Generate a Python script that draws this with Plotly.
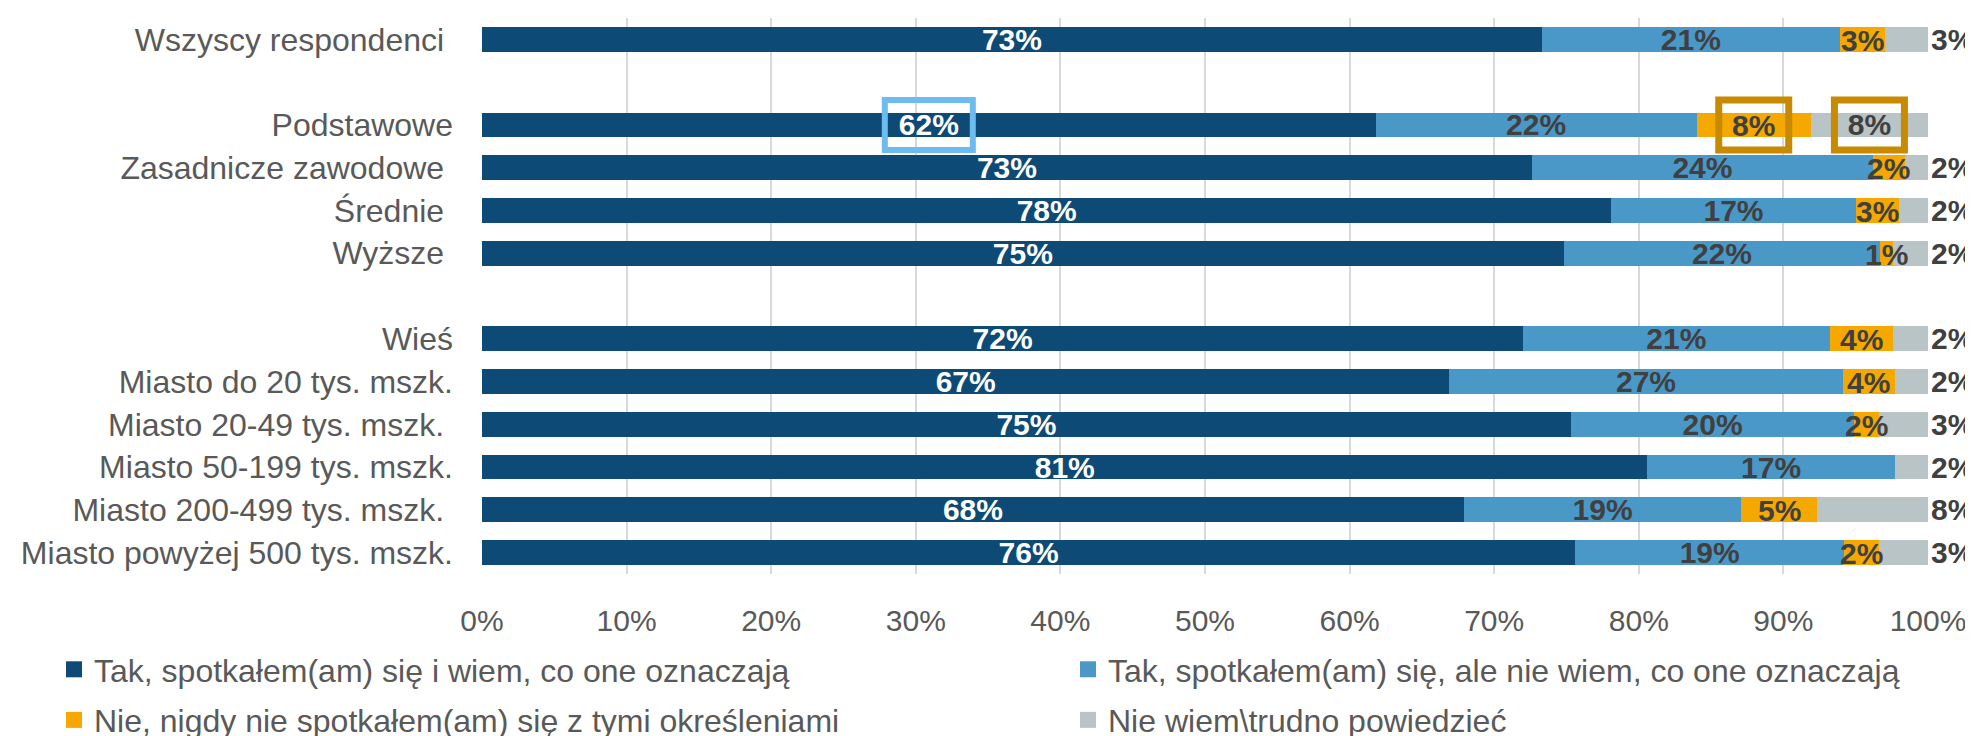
import plotly.graph_objects as go

# ---------------- data ----------------
categories = [
    "Wszyscy respondenci\u00a0",
    " ",
    "Podstawowe",
    "Zasadnicze zawodowe\u00a0",
    "Średnie\u00a0",
    "Wyższe\u00a0",
    "  ",
    "Wieś",
    "Miasto do 20 tys. mszk.",
    "Miasto 20-49 tys. mszk.\u00a0",
    "Miasto 50-199 tys. mszk.",
    "Miasto 200-499 tys. mszk.\u00a0",
    "Miasto powyżej 500 tys. mszk.",
]

series_names = [
    "Tak, spotkałem(am) się i wiem, co one oznaczają",
    "Tak, spotkałem(am) się, ale nie wiem, co one oznaczają",
    "Nie, nigdy nie spotkałem(am) się z tymi określeniami",
    "Nie wiem\\trudno powiedzieć",
]

tak_wiem = [73.3, None, 61.8, 72.6, 78.1, 74.8, None, 72.0, 66.9, 75.3, 80.6, 67.9, 75.6]
tak_nie_wiem = [20.6, None, 22.2, 23.6, 16.9, 21.9, None, 21.2, 27.2, 19.6, 17.1, 19.2, 18.6]
nie_nigdy = [3.1, None, 7.9, 2.2, 3.0, 0.9, None, 4.4, 3.6, 1.7, 0.0, 5.2, 2.4]
trudno = [3.0, None, 8.1, 1.6, 2.0, 2.4, None, 2.4, 2.3, 3.4, 2.3, 7.7, 3.4]

x_ticks = [0, 10, 20, 30, 40, 50, 60, 70, 80, 90, 100]

# highlighted labels: (category, series index)
highlights = [("Podstawowe", 0), ("Podstawowe", 2), ("Podstawowe", 3)]

# ---------------- style ----------------
colors = ["#0D4A76", "#4A98C8", "#F5A900", "#B8C4C5"]
label_colors = ["#FFFFFF", "#404040", "#404040", "#404040"]
FONT = "Liberation Sans, Arial, sans-serif"
series = [tak_wiem, tak_nie_wiem, nie_nigdy, trudno]


def lbl(v):
    if v is None or v == 0:
        return ""
    return f"{round(v)}%"


fig = go.Figure()
for i, (name, vals) in enumerate(zip(series_names, series)):
    texts = [lbl(v) for v in vals] if i != 2 else None
    if i == 3:
        positions = ["inside" if c == "Podstawowe" else "outside" for c in categories]
    else:
        positions = "inside"
    fig.add_trace(go.Bar(
        name=name,
        y=categories,
        x=vals,
        orientation="h",
        marker=dict(color=colors[i], line=dict(width=0)),
        text=texts,
        textposition=positions,
        insidetextanchor="middle",
        textangle=0,
        constraintext="none",
        cliponaxis=False,
        insidetextfont=dict(family=FONT, size=30, color=label_colors[i], weight="bold"),
        outsidetextfont=dict(family=FONT, size=30, color="#404040", weight="bold"),
        showlegend=False,
        hoverinfo="skip",
    ))

# labels of the narrow orange segments, drawn above all bars
for j, cat in enumerate(categories):
    v = nie_nigdy[j]
    if v:
        fig.add_annotation(
            x=(tak_wiem[j] or 0) + (tak_nie_wiem[j] or 0) + v / 2,
            y=cat, xref="x", yref="y",
            text=lbl(v), showarrow=False,
            xanchor="center", yanchor="middle", yshift=-1,
            font=dict(family=FONT, size=30, color="#404040", weight="bold"),
        )

# legend entries (square markers like the original)
for i, name in enumerate(series_names):
    fig.add_trace(go.Scatter(
        name=name,
        x=[None], y=[None],
        mode="markers",
        marker=dict(symbol="square", size=16, color=colors[i]),
        legend="legend" if i in (0, 2) else "legend2",
        legendgroup=f"g{i}",
        showlegend=True,
        hoverinfo="skip",
    ))

# highlight boxes (positions derived from data)
box_style = {0: ("#6DBBF0", 6, 44), 2: ("#C88A00", 7, 35), 3: ("#C88A00", 7, 35)}
px_per_unit = 1446 / 100.0
row_px = 42.8
for cat, si in highlights:
    idx = categories.index(cat)
    start = sum((series[k][idx] or 0) for k in range(si))
    center = start + (series[si][idx] or 0) / 2
    color, lw, half_px = box_style[si]
    half = half_px / px_per_unit
    fig.add_shape(
        type="rect", xref="x", yref="y",
        x0=center - half, x1=center + half,
        y0=idx - 25 / row_px, y1=idx + 25 / row_px,
        line=dict(color=color, width=lw),
        fillcolor="rgba(0,0,0,0)",
        layer="above",
    )

legend_common = dict(
    orientation="v", xref="container", yref="container",
    xanchor="left", yanchor="top",
    font=dict(family=FONT, size=32, color="#595959"),
    tracegroupgap=6, traceorder="grouped",
    bgcolor="rgba(0,0,0,0)", itemclick=False, itemdoubleclick=False,
)

fig.update_layout(
    width=1973,
    height=736,
    barmode="stack",
    bargap=0.42,
    plot_bgcolor="white",
    paper_bgcolor="white",
    margin=dict(l=474, r=53, t=10, b=170, autoexpand=False),
    font=dict(family=FONT, color="#595959"),
    legend=dict(x=46 / 1973, y=1 - 634 / 736, **legend_common),
    legend2=dict(x=1060 / 1973, y=1 - 634 / 736, **legend_common),
    showlegend=True,
)

fig.update_xaxes(
    range=[0, 100.001],
    tickvals=x_ticks,
    ticktext=[f"{t}%" for t in x_ticks],
    showgrid=True,
    gridcolor="#D9D9D9",
    gridwidth=2,
    zeroline=False,
    showline=False,
    ticks="",
    tickfont=dict(family=FONT, size=30, color="#595959"),
    ticklabelstandoff=26,
    fixedrange=True,
)
fig.update_yaxes(
    type="category",
    categoryorder="array",
    categoryarray=categories,
    range=[len(categories) - 0.5, -0.5],
    autorange=False,
    showgrid=False,
    zeroline=False,
    showline=False,
    ticks="",
    tickfont=dict(family=FONT, size=32, color="#595959"),
    ticklabelstandoff=28,
    fixedrange=True,
)

fig.write_html("out.html")
